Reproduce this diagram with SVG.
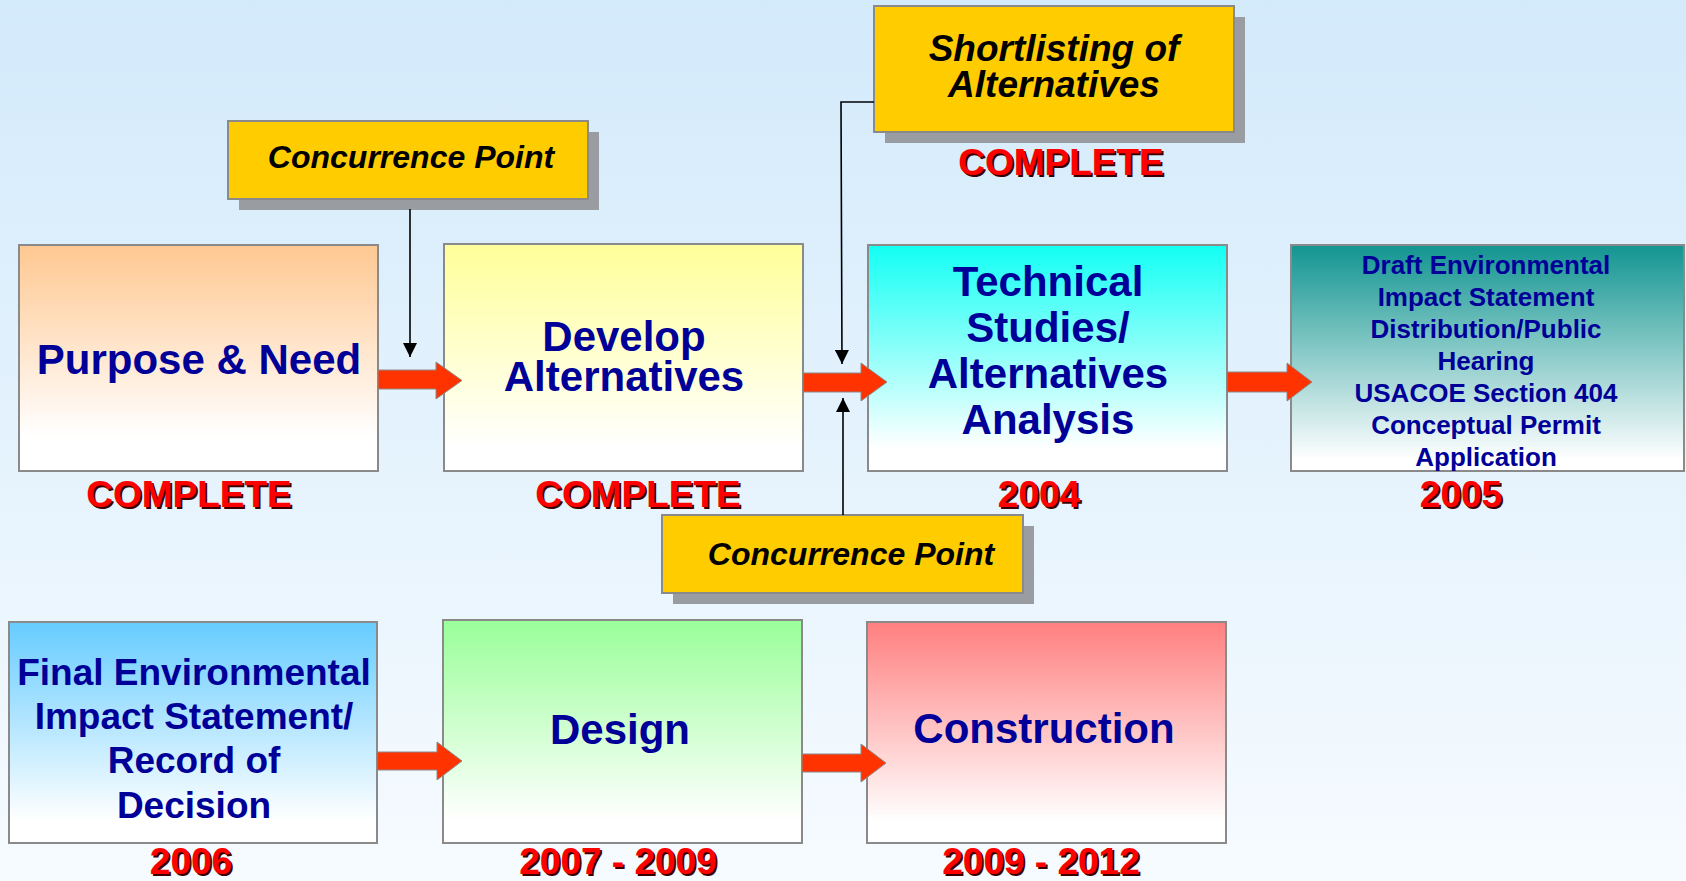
<svg xmlns="http://www.w3.org/2000/svg" width="1686" height="881" viewBox="0 0 1686 881">
<defs>
<linearGradient id="bg" x1="0" y1="0" x2="0" y2="1"><stop offset="0" stop-color="#d3eafb"/><stop offset="1" stop-color="#f6fbff"/></linearGradient>
<linearGradient id="gPeach" x1="0" y1="0" x2="0" y2="1"><stop offset="0" stop-color="#ffc891"/><stop offset="0.85" stop-color="#ffffff"/></linearGradient>
<linearGradient id="gYellow" x1="0" y1="0" x2="0" y2="1"><stop offset="0" stop-color="#ffff99"/><stop offset="0.9" stop-color="#ffffff"/></linearGradient>
<linearGradient id="gCyan" x1="0" y1="0" x2="0" y2="1"><stop offset="0" stop-color="#12fff4"/><stop offset="0.9" stop-color="#ffffff"/></linearGradient>
<linearGradient id="gTeal" x1="0" y1="0" x2="0" y2="1"><stop offset="0" stop-color="#129591"/><stop offset="0.95" stop-color="#ffffff"/></linearGradient>
<linearGradient id="gBlue" x1="0" y1="0" x2="0" y2="1"><stop offset="0" stop-color="#66ccff"/><stop offset="0.9" stop-color="#ffffff"/></linearGradient>
<linearGradient id="gGreen" x1="0" y1="0" x2="0" y2="1"><stop offset="0" stop-color="#99ff99"/><stop offset="0.9" stop-color="#ffffff"/></linearGradient>
<linearGradient id="gRed" x1="0" y1="0" x2="0" y2="1"><stop offset="0" stop-color="#ff7f7f"/><stop offset="0.9" stop-color="#ffffff"/></linearGradient>
<marker id="tri" viewBox="0 0 10 10" refX="10" refY="5" markerWidth="14" markerHeight="14" markerUnits="userSpaceOnUse" orient="auto"><path d="M0,0 L10,5 L0,10 Z" fill="#000"/></marker>
</defs>
<style>
.box{stroke:#8a8a8a;stroke-width:2}
.note{fill:#ffcc00;stroke:#8a8a8a;stroke-width:2}
.shadow{fill:#999da1}
.nt{font-family:"Liberation Sans",Arial,sans-serif;font-weight:bold;fill:#000099;text-anchor:middle}
.it{font-family:"Liberation Sans",Arial,sans-serif;font-weight:bold;font-style:italic;fill:#000;text-anchor:middle}
.st{font-family:"Liberation Sans",Arial,sans-serif;font-weight:bold;font-size:37px;text-anchor:middle}
.st .sh{fill:#3a0000}
.st .fg{fill:#ff0000}
.blk{fill:#ff3300;stroke:#8a8a8a;stroke-width:1}
.ln{fill:none;stroke:#000;stroke-width:1.6;marker-end:url(#tri)}
</style>
<rect width="1686" height="881" fill="url(#bg)"/>

<g id="concurrence-top">
<rect class="shadow" x="239" y="132" width="360" height="78"/>
<rect class="note" x="228" y="121" width="360" height="78"/>
<text class="it" x="411" y="168" font-size="32">Concurrence Point</text>
</g>

<g id="shortlisting">
<rect class="shadow" x="885" y="17" width="360" height="126"/>
<rect class="note" x="874" y="6" width="360" height="126"/>
<text class="it" x="1054" y="61" font-size="37">Shortlisting of</text>
<text class="it" x="1054" y="97" font-size="37">Alternatives</text>
<g class="st"><text class="sh" x="1063" y="177">COMPLETE</text><text class="fg" x="1061" y="175">COMPLETE</text></g>
</g>

<g id="concurrence-bottom">
<rect class="shadow" x="673" y="526" width="361" height="78"/>
<rect class="note" x="662" y="515" width="361" height="78"/>
<text class="it" x="851" y="565" font-size="32">Concurrence Point</text>
</g>

<g id="purpose-need">
<rect class="box" x="19" y="245" width="359" height="226" fill="url(#gPeach)"/>
<text class="nt" x="199" y="374" font-size="42">Purpose &amp; Need</text>
<g class="st"><text class="sh" x="191" y="509">COMPLETE</text><text class="fg" x="189" y="507">COMPLETE</text></g>
</g>

<g id="develop-alternatives">
<rect class="box" x="444" y="244" width="359" height="227" fill="url(#gYellow)"/>
<text class="nt" x="624" y="351" font-size="42">Develop</text>
<text class="nt" x="624" y="391" font-size="42">Alternatives</text>
<g class="st"><text class="sh" x="640" y="509">COMPLETE</text><text class="fg" x="638" y="507">COMPLETE</text></g>
</g>

<g id="technical-studies">
<rect class="box" x="868" y="245" width="359" height="226" fill="url(#gCyan)"/>
<text class="nt" x="1048" y="296" font-size="42">Technical</text>
<text class="nt" x="1048" y="342" font-size="42">Studies/</text>
<text class="nt" x="1048" y="388" font-size="42">Alternatives</text>
<text class="nt" x="1048" y="434" font-size="42">Analysis</text>
<g class="st"><text class="sh" x="1041" y="509">2004</text><text class="fg" x="1039" y="507">2004</text></g>
</g>

<g id="draft-eis">
<rect class="box" x="1291" y="245" width="393" height="226" fill="url(#gTeal)"/>
<text class="nt" x="1486" y="274" font-size="26">Draft Environmental</text>
<text class="nt" x="1486" y="306" font-size="26">Impact Statement</text>
<text class="nt" x="1486" y="338" font-size="26">Distribution/Public</text>
<text class="nt" x="1486" y="370" font-size="26">Hearing</text>
<text class="nt" x="1486" y="402" font-size="26">USACOE Section 404</text>
<text class="nt" x="1486" y="434" font-size="26">Conceptual Permit</text>
<text class="nt" x="1486" y="466" font-size="26">Application</text>
<g class="st"><text class="sh" x="1463" y="509">2005</text><text class="fg" x="1461" y="507">2005</text></g>
</g>

<g id="final-eis">
<rect class="box" x="9" y="622" width="368" height="221" fill="url(#gBlue)"/>
<text class="nt" x="194" y="685" font-size="37">Final Environmental</text>
<text class="nt" x="194" y="729" font-size="37">Impact Statement/</text>
<text class="nt" x="194" y="773" font-size="37">Record of</text>
<text class="nt" x="194" y="818" font-size="37">Decision</text>
<g class="st"><text class="sh" x="193" y="876">2006</text><text class="fg" x="191" y="874">2006</text></g>
</g>

<g id="design">
<rect class="box" x="443" y="620" width="359" height="223" fill="url(#gGreen)"/>
<text class="nt" x="620" y="744" font-size="42">Design</text>
<g class="st"><text class="sh" x="620" y="876">2007 - 2009</text><text class="fg" x="618" y="874">2007 - 2009</text></g>
</g>

<g id="construction">
<rect class="box" x="867" y="622" width="359" height="221" fill="url(#gRed)"/>
<text class="nt" x="1044" y="743" font-size="42">Construction</text>
<g class="st"><text class="sh" x="1043" y="876">2009 - 2012</text><text class="fg" x="1041" y="874">2009 - 2012</text></g>
</g>

<g id="connectors">
<path class="blk" d="M378,370 L436,370 L436,362 L462,380.5 L436,399 L436,389 L378,389 Z"/>
<path class="blk" d="M803,373 L861,373 L861,363 L887,382 L861,401 L861,392 L803,392 Z"/>
<path class="blk" d="M1227,372 L1287,372 L1287,363 L1312,382 L1287,401 L1287,392 L1227,392 Z"/>
<path class="blk" d="M377,752 L437,752 L437,742 L462,761 L437,780 L437,770 L377,770 Z"/>
<path class="blk" d="M802,754 L861,754 L861,744 L886,763 L861,782 L861,772 L802,772 Z"/>
<path class="ln" d="M410,209 L410,357"/>
<path class="ln" d="M874,102 L841,102 L842,364"/>
<path class="ln" d="M843,515 L843,398"/>
</g>
</svg>
